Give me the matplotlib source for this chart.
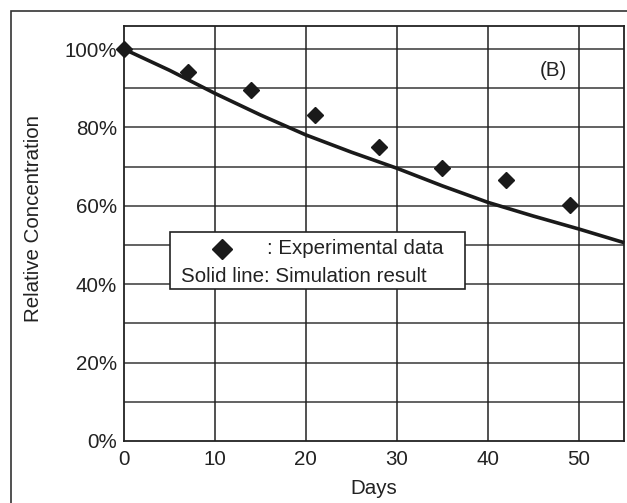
import numpy as np
import matplotlib.pyplot as plt
from matplotlib.patches import Rectangle
from matplotlib.lines import Line2D

plt.rcParams['font.family'] = ['Liberation Sans', 'DejaVu Sans']

# measured points (days, % of initial)
exp_days = [0, 7, 14, 21, 28, 35, 42, 49]
exp_conc = [100, 94.1, 89.5, 83.2, 75.1, 69.6, 66.6, 60.2]

# simulation curve
sim_days = [0, 5, 10, 15, 20, 25, 30, 35, 40, 45, 50, 55]
sim_conc = [100, 94.6, 88.7, 83.2, 78.1, 73.7, 69.6, 65.1, 60.9, 57.4, 54.1, 50.6]

x_ticks = [0, 10, 20, 30, 40, 50]
y_ticks = [0, 20, 40, 60, 80, 100]
y_labels = ['0%', '20%', '40%', '60%', '80%', '100%']

W, H = 627, 503
FS = 14.8
TXT = '#222222'
fig = plt.figure(figsize=(W / 100, H / 100), dpi=100)
ax = fig.add_axes([124 / W, 1 - 441 / H, 500.3 / W, 415 / H])

ax.set_xlim(0, 55)
ax.set_ylim(0, 105.9)

# grid
for yv in range(10, 106, 10):
    ax.axhline(yv, color='#555555', lw=1.3, zorder=1)
for xv in range(10, 55, 10):
    ax.axvline(xv, color='#222222', lw=1.1, zorder=1)

ax.plot(sim_days, sim_conc, color='#1a1a1a', lw=2.6, zorder=3, clip_on=False,
        solid_capstyle='butt')
ax.plot(exp_days, exp_conc, linestyle='none', marker='D', ms=8.5,
        color='#1a1a1a', zorder=4, clip_on=False)

ax.set_xticks(x_ticks)
ax.set_yticks(y_ticks)
ax.set_yticklabels(y_labels)
ax.tick_params(length=0, labelsize=FS, colors=TXT)
ax.tick_params(axis='y', pad=5)
ax.tick_params(axis='x', pad=6.5)
for s in ax.spines.values():
    s.set_color('#222222')
    s.set_linewidth(1.3)

ax.set_xlabel('Days', fontsize=FS, color=TXT, labelpad=7)
ax.set_ylabel('Relative Concentration', fontsize=FS, color=TXT)
ax.yaxis.set_label_coords(-0.162, 0.535)

fig.text(553 / W, 1 - 71 / H, '(B)', fontsize=FS, color=TXT, ha='center',
         va='center')

# legend box drawn by hand
fig.patches.append(Rectangle((170 / W, 1 - 289 / H), 295 / W, 56.5 / H,
                             transform=fig.transFigure, facecolor='white',
                             edgecolor='#222222', lw=1.2, zorder=5))
fig.lines.append(Line2D([221.7 / W], [1 - 249.5 / H], marker='D', ms=10.5,
                        color='#1a1a1a', transform=fig.transFigure, zorder=6))
fig.text(267 / W, 1 - 249 / H, ': Experimental data', fontsize=FS, color=TXT,
         va='center', zorder=6)
fig.text(181 / W, 1 - 276 / H, 'Solid line: Simulation result', fontsize=FS,
         color=TXT, va='center', zorder=6)

# outer frame
fig.patches.append(Rectangle((11 / W, -0.1), 1.1, 1 - 11 / H + 0.1,
                             transform=fig.transFigure, fill=False,
                             edgecolor='#333333', lw=1.2))

fig.savefig('out.png', dpi=100)
